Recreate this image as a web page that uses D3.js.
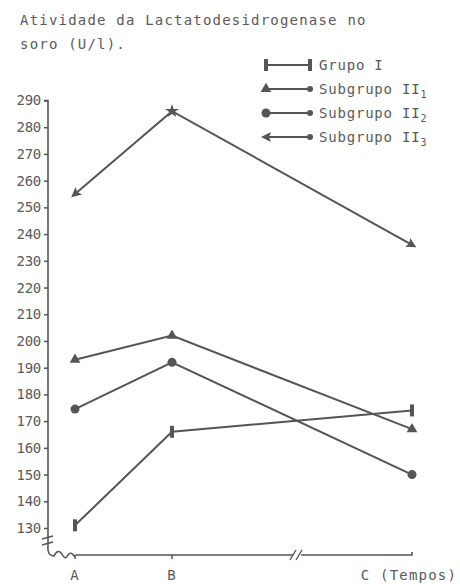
<!DOCTYPE html>
<html><head><meta charset="utf-8">
<script src="https://cdn.jsdelivr.net/npm/d3@7"></script>
<style>body{margin:0;background:#fff}svg text{font-family:"DejaVu Sans Mono",monospace;fill:#5a5a5a}</style>
</head><body><svg id="c" width="460" height="584"></svg>
<script>
const times = ["A","B","C"];
const timeLabels = ["A","B","C (Tempos)"];
const seriesNames = ["Grupo I","Subgrupo II","Subgrupo II","Subgrupo II"];
const seriesSubs = ["","1","2","3"];
const grupoI = [131,166,174];
const subII1 = [193,202,167];
const subII2 = [174.5,192,150];
const subII3 = [255,286,236];
const yTicks = [130,140,150,160,170,180,190,200,210,220,230,240,250,260,270,280,290];
const markers = ["bar","triangle","circle","star"];

const series = [grupoI, subII1, subII2, subII3];
const col = "#555";
const svg = d3.select("#c");
const y = d3.scaleLinear().domain([130,290]).range([528,100.5]);
const x = d3.scaleOrdinal().domain(times).range([75,172,412]);

// title
svg.append("text").attr("x",20).attr("y",25).attr("font-size",14).attr("letter-spacing",1.2).text("Atividade da Lactatodesidrogenase no");
svg.append("text").attr("x",20).attr("y",49).attr("font-size",14).attr("letter-spacing",1.2).text("soro (U/l).");

// y axis
const ya = svg.append("g").attr("transform","translate(48,0)").call(d3.axisLeft(y).tickValues(yTicks).tickSize(4).tickPadding(3));
ya.select(".domain").remove();
ya.selectAll("line").attr("stroke",col).attr("stroke-width",1.5);
ya.selectAll("text").attr("font-size",14).attr("letter-spacing",-0.3).style("fill","#5a5a5a").attr("font-family","DejaVu Sans Mono");
svg.append("path").attr("d","M44,100.5 L48,100.5 L48,545").attr("fill","none").attr("stroke",col).attr("stroke-width",1.6);
// y break marks
svg.append("path").attr("d","M42,539 L53,536 M42,545 L53,542").attr("stroke",col).attr("stroke-width",1.4);
// squiggle
svg.append("path").attr("d","M48,545 Q47,556 54,556 Q58,548 62,554 Q65,561 68,555 Q71,551 74,556 L76,555").attr("fill","none").attr("stroke",col).attr("stroke-width",1.5);

// x axis with break
svg.append("path").attr("d","M76,555 L293,555 M301,555 L412,555 L412,552").attr("fill","none").attr("stroke",col).attr("stroke-width",1.6);
svg.append("path").attr("d","M290,560 L296,550 M296,560 L302,550").attr("stroke",col).attr("stroke-width",1.4);
times.forEach((t,i)=>{
  if(i<2) svg.append("line").attr("x1",x(t)).attr("x2",x(t)).attr("y1",555).attr("y2",559).attr("stroke",col).attr("stroke-width",1.5);
  svg.append("text").attr("x",i<2?x(t):x(t)-3).attr("y",580).attr("text-anchor","middle").attr("font-size",14).attr("letter-spacing",1.2).text(timeLabels[i]);
});

// markers
function drawMarker(g, type, px, py, angle){
  if(type==="bar"){
    g.append("rect").attr("x",px-2).attr("y",py-6).attr("width",4).attr("height",12).attr("fill",col);
  } else if(type==="triangle"){
    g.append("path").attr("d",d3.symbol(d3.symbolTriangle,50)()).attr("transform",`translate(${px},${py})`).attr("fill",col);
  } else if(type==="circle"){
    g.append("circle").attr("cx",px).attr("cy",py).attr("r",4.5).attr("fill",col);
  } else {
    if(angle===null){
      g.append("path").attr("d",d3.symbol(d3.symbolStar,60)()).attr("transform",`translate(${px},${py})`).attr("fill",col);
    } else {
      g.append("path").attr("d","M5,0 L-5,-5 L-3,0 L-5,5 Z").attr("transform",`translate(${px},${py}) rotate(${angle})`).attr("fill",col);
    }
  }
}

const line = d3.line().x((d,i)=>x(times[i])).y(d=>y(d));
series.forEach((s,k)=>{
  const g = svg.append("g");
  g.append("path").attr("d",line(s)).attr("fill","none").attr("stroke",col).attr("stroke-width",2);
  s.forEach((v,i)=>{
    let ang = null;
    if(markers[k]==="star"){
      if(i===0){ ang = Math.atan2(y(s[0])-y(s[1]), x(times[0])-x(times[1]))*180/Math.PI; }
      if(i===2){ ang = Math.atan2(y(s[2])-y(s[1]), x(times[2])-x(times[1]))*180/Math.PI; }
    }
    drawMarker(g, markers[k], x(times[i]), y(v), ang);
  });
});

// legend
const legY = [65,89,113,137];
seriesNames.forEach((n,k)=>{
  const g = svg.append("g");
  const ly = legY[k];
  g.append("line").attr("x1",265).attr("x2",310).attr("y1",ly).attr("y2",ly).attr("stroke",col).attr("stroke-width",2);
  drawMarker(g, markers[k], 266, ly, markers[k]==="star"?180:null);
  if(markers[k]==="bar") drawMarker(g,"bar",310,ly,null);
  else g.append("circle").attr("cx",310).attr("cy",ly).attr("r",3).attr("fill",col);
  const t = g.append("text").attr("x",319).attr("y",ly+5).attr("font-size",14).attr("letter-spacing",0.8).text(n);
  if(seriesSubs[k]) t.append("tspan").attr("dy",4).attr("font-size",10).text(seriesSubs[k]);
});
</script></body></html>
